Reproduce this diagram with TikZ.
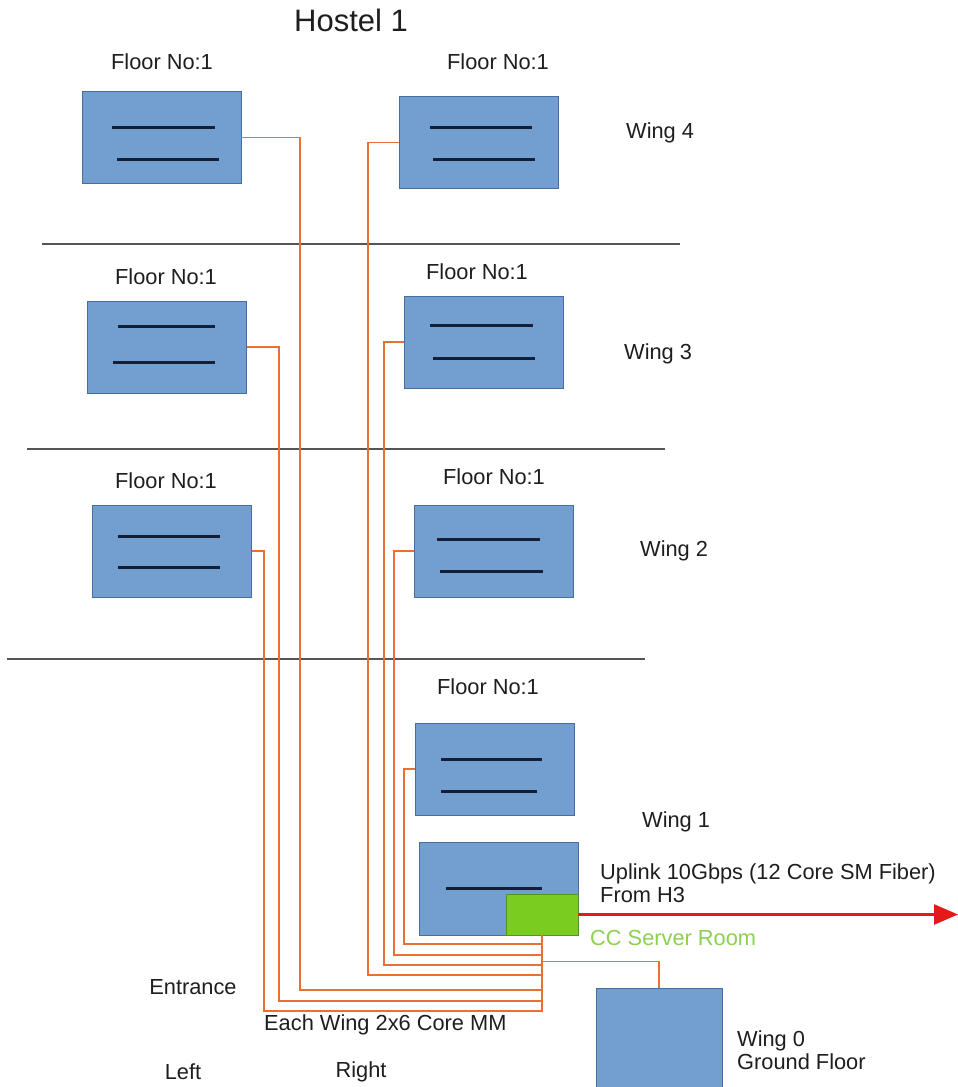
\documentclass[tikz,border=0pt]{standalone}
\usepackage{fontspec}
\setmainfont{Liberation Sans}
\usetikzlibrary{arrows.meta}
\definecolor{boxblue}{RGB}{114,159,207}
\definecolor{boxedge}{RGB}{70,110,160}
\definecolor{slotnavy}{RGB}{20,30,55}
\definecolor{fiberorange}{RGB}{232,112,55}
\definecolor{divgray}{RGB}{85,85,85}
\definecolor{serverfill}{RGB}{122,204,32}
\definecolor{serveredge}{RGB}{80,150,30}
\definecolor{ccgreen}{RGB}{140,208,80}
\definecolor{uplinkred}{RGB}{228,26,26}
\definecolor{textgray}{RGB}{30,30,30}
\begin{document}
\begin{tikzpicture}[x=1pt, y=-1pt,
    floorbox/.style={draw=boxedge, fill=boxblue, line width=0.8pt, minimum width=159pt, minimum height=92pt, inner sep=0pt},
    lbl/.style={font=\fontsize{21.8}{23}\selectfont, text=textgray, inner sep=0pt},
    fiber/.style={draw=fiberorange, line width=1.5pt},
    divider/.style={draw=divgray, line width=1.8pt},
    slot/.style={draw=slotnavy, line width=3pt}]
    \useasboundingbox (0,0) rectangle (958,1087);

    % Title
    \node[lbl, font=\fontsize{31}{34}\selectfont] (title) at (351,20) {Hostel 1};

    % Wing dividers
    \draw[divider] (42,244) -- (680,244);
    \draw[divider] (27,449) -- (665,449);
    \draw[divider] (7,659) -- (645,659);

    % Floor switches
    \node[floorbox] (w4l) at (161.5,137.5) {};
    \node[floorbox] (w4r) at (478.5,142.5) {};
    \node[floorbox] (w3l) at (167,347) {};
    \node[floorbox] (w3r) at (483.5,342) {};
    \node[floorbox] (w2l) at (172,551) {};
    \node[floorbox] (w2r) at (493.5,551) {};
    \node[floorbox] (w1u) at (494.5,769) {};
    \node[floorbox, minimum height=93pt] (w1l) at (498.5,888.5) {};
    \node[floorbox, minimum width=126pt, minimum height=104pt] (w0) at (659,1040) {};

    % Slots inside the switches
    \foreach \xa/\xb/\y in {112/215/127, 117/219/159, 430/532/127, 433/535/159,
                            118/215/326, 113/215/362, 430/533/325, 433/535/358,
                            118/220/536, 118/220/567, 437/540/539, 440/543/571,
                            441/542/759, 441/537/791, 446/542/888}
        \draw[slot] (\xa,\y) -- (\xb,\y);

    % Server room
    \node[draw=serveredge, fill=serverfill, line width=0.8pt, minimum width=72pt, minimum height=41pt, inner sep=0pt] (srv) at (542,914.5) {};

    % Fibers to each wing
    \foreach \b/\s/\vx/\ly in {w1u/west/404/944, w2r/west/394/955, w3r/west/384/965,
                               w4r/west/368/975, w4l/east/300/990, w3l/east/279/1001,
                               w2l/east/264/1011}
        \draw[fiber] (\b.\s) -| (\vx,\ly) -| (srv.south);
    \draw[fiber] (w0.north) |- ([yshift=-26pt]srv.south);

    % Uplink
    \coordinate (h3) at (958,914.5);
    \draw[uplinkred, line width=2.6pt, -{Triangle[length=24pt, width=20pt]}] (srv.east) -- (h3);

    % Labels
    \node[lbl] (f4l) at (162,62) {Floor No:1};
    \node[lbl] (f4r) at (498,62) {Floor No:1};
    \node[lbl] (f3l) at (166,277) {Floor No:1};
    \node[lbl] (f3r) at (477,272) {Floor No:1};
    \node[lbl] (f2l) at (166,481) {Floor No:1};
    \node[lbl] (f2r) at (494,477) {Floor No:1};
    \node[lbl] (f1) at (488,687) {Floor No:1};
    \node[lbl, anchor=west] (wing4) at (626,133) {Wing 4};
    \node[lbl, anchor=west] (wing3) at (624,354) {Wing 3};
    \node[lbl, anchor=west] (wing2) at (640,551) {Wing 2};
    \node[lbl, anchor=west] (wing1) at (642,822) {Wing 1};
    \node[lbl, anchor=west, align=left] (uplink) at (600,883) {Uplink 10Gbps (12 Core SM Fiber)\\From H3};
    \node[lbl, anchor=west, text=ccgreen] (ccroom) at (590,938) {CC Server Room};
    \node[lbl] (entrance) at (193,987) {Entrance};
    \node[lbl, anchor=west] (mm) at (264,1025) {Each Wing 2x6 Core MM};
    \node[lbl] (left) at (183,1072) {Left};
    \node[lbl] (right) at (361,1072) {Right};
    \node[lbl, anchor=west, align=left] (wing0) at (737,1050) {Wing 0\\Ground Floor};
\end{tikzpicture}
\end{document}
